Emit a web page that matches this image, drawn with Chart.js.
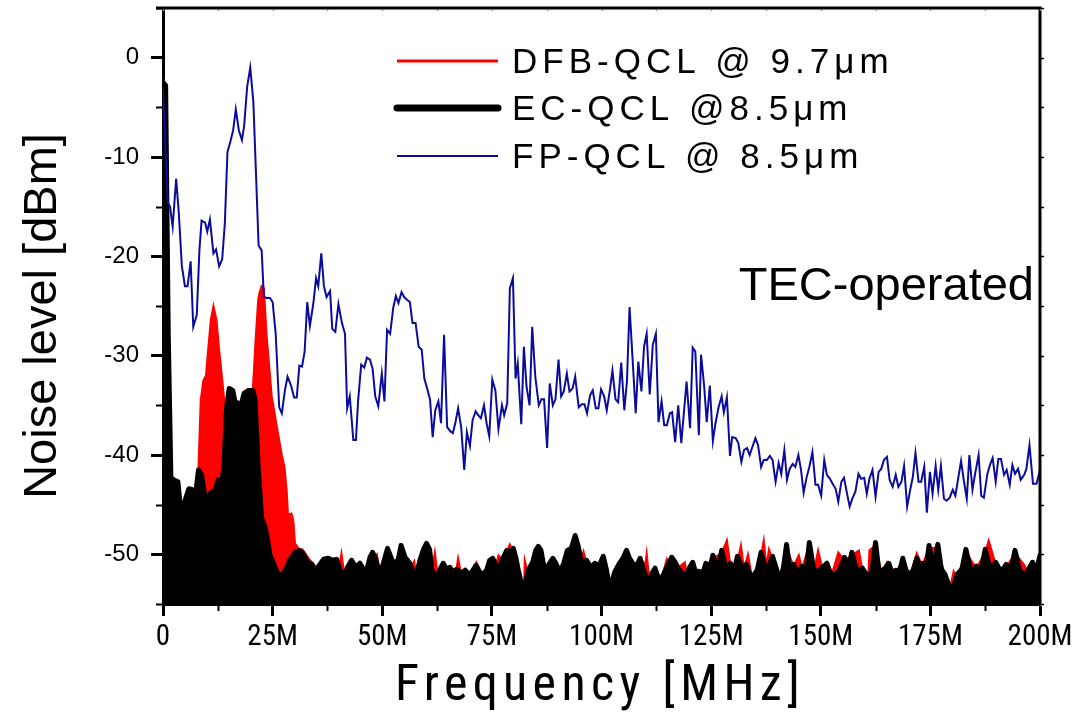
<!DOCTYPE html>
<html>
<head>
<meta charset="utf-8">
<script src="https://cdn.jsdelivr.net/npm/chart.js@4.4.1/dist/chart.umd.min.js"></script>
<style>
  html, body { margin: 0; padding: 0; background: #fff; }
  #chart { display: block; }
</style>
</head>
<body>
<canvas id="chart" width="1072" height="712"></canvas>
<script>
// values: frequency in MHz, noise level in dBm
const freqDFB = [0.0,0.5,1.2,1.8,2.4,3.4,4.3,5.0,6.0,7.0,7.6,8.1,8.6,9.2,9.8,10.3,10.9,11.5,12.2,12.8,13.6,14.1,14.8,16.0,17.5,19.0,20.0,20.6,21.2,21.7,22.0,22.5,23.0,23.6,24.8,25.9,27.1,27.7,28.2,28.5,29.3,29.7,30.1,30.9,31.8,32.6,33.4,34.3,35.2,36.0,37.0,38.1,39.4,40.1,40.7,41.3,42.2,43.0,44.2,45.6,47.0,48.2,48.8,49.5,50.5,51.3,52.3,53.3,54.3,55.5,56.6,57.3,57.8,58.6,59.6,60.5,61.3,62.0,62.6,63.5,64.6,65.8,66.8,67.3,68.0,69.0,70.2,71.5,72.3,73.2,74.5,75.6,76.5,77.3,78.3,79.1,80.0,81.0,81.6,82.3,82.5,83.0,84.2,85.6,86.8,87.9,88.9,90.0,91.2,92.4,93.8,95.0,95.9,96.6,97.5,98.5,99.4,100.4,101.3,102.1,103.2,104.0,105.0,105.8,106.7,107.3,108.2,108.9,110.0,110.3,110.9,112.1,113.1,113.8,114.9,115.5,116.1,117.0,117.9,119.0,119.5,120.8,122.2,123.8,125.4,127.4,128.6,129.4,130.4,131.8,132.5,133.4,134.3,135.4,136.4,137.0,137.6,138.2,139.0,140.0,140.9,142.2,143.8,145.0,145.7,147.4,148.4,149.4,150.4,151.4,152.4,154.0,155.4,157.1,158.7,159.5,160.8,161.1,162.5,163.9,165.1,166.3,167.1,168.7,170.3,171.9,173.1,174.7,176.7,178.3,179.5,180.3,181.1,183.1,185.5,187.5,188.3,189.9,191.1,192.3,194.3,196.3,197.3,198.3,199.1,200.0];
const levelDFB = [-2.2,-3.0,-30,-43.0,-43.5,-44.0,-47.5,-45.5,-44.5,-45.2,-44.5,-41.2,-34.5,-32.5,-32.0,-29.4,-26.4,-25.0,-26.4,-29.4,-32.8,-35.2,-37.5,-39.0,-40.0,-39.0,-36.5,-32.5,-27.8,-24.4,-23.7,-23.0,-23.2,-27.8,-34.1,-37.0,-40.0,-41.2,-43.5,-46.0,-45.9,-46.5,-48.9,-49.4,-49.5,-50.0,-50.5,-51.0,-51.3,-50.8,-51.0,-50.8,-51.0,-51.5,-49.9,-51.8,-52.0,-51.2,-51.5,-51.8,-50.8,-50.3,-50.0,-52.3,-51.0,-50.0,-51.4,-51.3,-49.8,-50.8,-51.3,-50.7,-52.5,-51.0,-49.8,-49.5,-51.8,-49.8,-52.0,-51.5,-51.8,-52.0,-51.8,-50.4,-52.0,-52.2,-51.7,-50.8,-52.0,-52.0,-50.8,-51.6,-50.1,-50.5,-49.8,-49.0,-50.0,-51.0,-52.0,-53.8,-50.6,-51.5,-51.0,-49.4,-51.9,-51.2,-50.6,-51.8,-51.2,-49.8,-48.4,-51.0,-49.7,-50.9,-51.6,-51.2,-51.4,-50.4,-51.7,-53.2,-52.0,-51.1,-50.8,-49.8,-51.0,-51.2,-51.5,-50.6,-51.0,-49.9,-52.5,-51.6,-52.5,-52.2,-50.5,-51.2,-50.5,-51.6,-51.2,-50.8,-52.2,-51.0,-51.9,-51.2,-50.4,-49.9,-48.6,-51.1,-51.9,-49.1,-51.5,-50.0,-52.3,-51.8,-50.1,-48.6,-51.2,-49.5,-50.5,-51.8,-52.8,-49.3,-51.2,-50.1,-51.4,-49.1,-51.8,-49.6,-51.5,-51.1,-52.2,-49.8,-50.6,-50.1,-49.6,-51.6,-52.4,-49.6,-49.1,-51.9,-50.8,-52.0,-51.8,-50.6,-52.2,-49.9,-51.1,-49.4,-49.3,-52.2,-53.4,-51.7,-52.4,-49.8,-51.4,-49.8,-48.6,-51.0,-52.0,-51.3,-49.9,-51.0,-51.8,-51.0,-52.0,-50.4];

const freqEC = [0.0,0.6,1.2,1.8,2.4,3.4,4.3,5.0,5.9,6.7,7.3,8.1,8.8,9.8,10.7,11.9,12.6,13.4,13.9,14.5,15.1,15.9,16.4,17.0,17.9,18.5,19.5,20.5,21.0,21.7,22.5,23.0,23.6,24.4,25.2,26.3,26.7,28.0,29.0,30.1,31.0,31.9,33.0,34.0,34.7,35.5,36.6,37.7,38.7,39.6,40.4,41.2,42.1,43.0,44.0,44.9,46.3,47.2,47.8,48.5,49.5,50.5,51.2,52.0,52.5,53.6,54.3,55.2,56.3,57.5,58.6,59.4,60.1,60.8,61.3,62.4,63.2,63.9,64.7,65.4,66.2,67.0,68.0,68.9,69.9,70.7,71.4,72.0,72.7,73.8,74.5,75.2,75.8,76.5,77.3,78.4,79.2,79.9,80.5,81.0,82.2,83.3,84.3,85.0,85.6,86.2,87.1,88.0,88.9,89.6,90.5,91.4,92.2,93.1,94.0,94.7,95.5,96.6,97.5,98.5,99.4,100.4,101.1,101.9,103.0,104.1,104.9,105.7,106.4,107.1,108.0,108.8,109.8,110.7,111.5,112.2,113.3,114.4,115.3,116.0,116.8,117.5,118.6,119.4,120.1,120.8,121.5,122.2,123.0,123.8,124.6,125.4,126.5,127.4,128.4,129.4,130.2,131.0,132.0,133.0,133.8,134.6,135.5,136.4,137.6,139.0,140.0,140.9,141.6,142.2,143.0,143.8,144.8,145.7,146.6,147.4,148.4,149.4,150.4,151.4,152.4,153.4,154.4,155.4,156.3,157.1,158.3,159.5,160.8,161.7,162.5,163.2,163.9,164.7,165.5,166.3,167.1,167.9,168.7,169.5,170.3,171.1,171.9,172.5,173.1,173.9,174.7,175.7,176.7,177.5,178.3,179.9,181.1,182.2,183.1,184.3,185.5,186.5,187.5,188.7,189.9,191.1,192.3,193.3,194.3,195.3,196.3,197.3,198.3,199.1,200.0];
const levelEC = [-2.5,-2.8,-28,-42.3,-42.5,-42.7,-46.9,-44.6,-43.4,-43.5,-44.4,-41.5,-42.0,-44.9,-43.9,-43.5,-42.5,-42.7,-41.2,-35.2,-33.3,-33.5,-34.6,-34.8,-34.8,-33.8,-33.5,-33.5,-34.5,-41.2,-46.4,-46.9,-47.9,-50.1,-50.9,-52.1,-52.3,-51.5,-50.5,-49.8,-49.6,-49.9,-50.8,-51.0,-52.3,-51.2,-50.5,-50.4,-50.6,-50.5,-51.6,-52.3,-51.3,-50.6,-51.3,-50.9,-51.9,-50.3,-49.8,-50.5,-52.1,-50.5,-49.4,-50.3,-50.9,-50.6,-49.1,-50.3,-50.9,-52.4,-50.6,-49.5,-48.9,-49.5,-51.6,-52.3,-51.5,-50.9,-51.5,-51.3,-51.8,-51.5,-51.9,-51.6,-52.1,-51.6,-51.1,-51.6,-52.1,-51.6,-50.6,-50.4,-51.0,-51.6,-50.6,-49.6,-49.8,-49.4,-50.4,-51.6,-53.8,-51.6,-50.8,-49.6,-49.2,-49.6,-51.8,-51.0,-50.4,-50.9,-51.8,-50.9,-49.6,-49.4,-48.1,-49.2,-50.9,-50.6,-51.3,-50.9,-51.2,-50.2,-51.5,-53.5,-51.8,-50.9,-50.4,-49.6,-50.4,-50.9,-51.2,-50.4,-51.8,-53.0,-51.9,-51.4,-52.8,-51.8,-50.9,-50.3,-50.8,-51.4,-52.0,-52.0,-51.3,-50.8,-51.9,-51.7,-52.1,-50.9,-51.6,-50.1,-51.7,-49.6,-51.5,-50.9,-51.8,-50.2,-51.4,-51.0,-52.0,-52.2,-51.6,-49.8,-51.8,-50.2,-51.6,-52.7,-51.0,-49.0,-51.8,-51.0,-51.9,-51.2,-52.0,-48.8,-51.6,-51.7,-51.3,-50.9,-52.1,-52.0,-51.5,-50.3,-51.5,-49.8,-51.8,-51.4,-52.3,-51.6,-48.8,-51.5,-51.7,-51.4,-50.9,-51.9,-51.6,-51.9,-50.4,-51.7,-52.0,-51.6,-50.4,-51.5,-50.9,-51.8,-49.1,-51.5,-49.0,-51.5,-52.0,-53.9,-52.0,-51.5,-49.5,-51.8,-51.2,-51.8,-49.5,-51.6,-50.8,-51.8,-51.0,-51.8,-49.6,-51.5,-52.2,-51.6,-50.8,-51.8,-50.1];

const freqFP = [0.0,1.1,1.6,2.2,3.0,3.6,4.3,5.0,5.6,6.3,6.9,7.7,8.3,8.8,9.6,10.1,10.7,11.5,12.1,12.8,13.5,14.1,14.7,15.4,16.0,16.6,17.3,18.0,18.5,19.2,19.9,20.6,21.2,21.8,22.5,23.0,23.6,24.4,25.0,25.7,26.5,27.1,27.8,28.4,29.2,29.9,30.5,31.1,31.7,32.3,32.9,33.5,34.3,34.9,35.4,36.1,36.7,37.3,38.1,38.6,39.3,40.0,40.8,41.5,42.0,42.6,43.4,44.0,44.5,45.2,45.9,46.5,47.2,47.8,48.4,49.1,49.9,50.5,51.1,51.8,52.5,53.1,53.7,54.4,55.0,55.7,56.3,56.9,57.6,58.3,59.0,59.6,60.3,60.9,61.5,62.1,62.8,63.4,64.1,64.8,65.5,66.1,66.7,67.3,68.0,68.7,69.3,70.0,70.6,71.3,71.9,72.5,73.2,73.8,74.4,75.1,75.8,76.5,77.3,77.8,78.5,79.1,79.8,80.4,80.9,81.7,82.3,82.9,83.6,84.2,84.9,85.7,86.3,86.9,87.6,88.2,88.9,89.5,90.2,90.8,91.4,92.1,92.7,93.4,94.0,94.8,95.5,96.1,96.7,97.4,98.0,98.7,99.3,99.9,100.6,101.2,101.9,102.5,103.2,103.8,104.5,105.2,105.8,106.4,107.1,107.8,108.4,109.1,109.7,110.3,111.0,111.7,112.4,113.0,113.7,114.3,114.9,115.6,116.1,116.8,117.5,118.2,118.8,119.4,120.2,120.8,121.4,122.2,122.7,123.4,124.0,124.7,125.4,126.0,126.7,127.4,127.9,128.6,129.3,129.8,130.6,131.2,131.9,132.5,133.2,133.8,134.4,135.1,135.7,136.4,137.0,137.7,138.4,139.0,139.7,140.4,141.0,141.7,142.3,142.9,143.6,144.2,144.9,145.5,146.1,146.8,147.4,148.1,148.8,149.4,150.1,150.8,151.4,152.1,152.7,153.4,154.0,154.7,155.3,156.0,156.6,157.2,157.9,158.6,159.2,159.9,160.5,161.1,161.8,162.5,163.2,163.8,164.4,165.1,165.7,166.4,167.1,167.7,168.4,169.0,169.7,170.4,171.0,171.6,172.3,172.9,173.6,174.2,174.9,175.5,176.2,176.8,177.4,178.1,178.7,179.4,180.1,180.7,181.4,182.0,182.6,183.3,183.9,184.6,185.2,186.0,186.6,187.2,188.0,188.6,189.2,189.9,190.5,191.1,191.8,192.4,193.1,193.7,194.3,195.0,195.6,196.4,196.9,197.6,198.4,199.2,200.0];
const levelFP = [-3.2,-14.6,-15.0,-17.0,-12.2,-15.6,-21.0,-23.0,-23.0,-20.5,-27.1,-25.9,-19.4,-16.4,-16.6,-17.5,-16.3,-19.7,-19.3,-21.0,-20.3,-16.7,-9.5,-8.4,-7.3,-5.2,-7.3,-8.3,-6.9,-2.9,-1.0,-4.4,-11.6,-18.9,-19.4,-24.1,-24.2,-24.2,-24.6,-27.8,-35.2,-35.8,-33.5,-32.1,-33.0,-34.2,-34.2,-31.0,-31.1,-29.6,-24.6,-27.0,-24.7,-22.2,-23.0,-19.7,-23.0,-24.1,-23.5,-27.3,-27.6,-24.8,-26.7,-27.8,-35.3,-34.1,-38.5,-38.5,-34.5,-30.9,-31.2,-30.2,-30.4,-31.3,-34.1,-35.1,-31.8,-34.6,-27.4,-27.8,-25.2,-24.0,-24.7,-23.6,-24.1,-24.4,-24.6,-26.7,-26.7,-29.1,-29.4,-32.3,-33.4,-34.4,-38.2,-35.5,-34.6,-36.8,-27.9,-37.2,-37.6,-37.8,-36.7,-35.3,-37.2,-41.5,-37.7,-39.1,-36.5,-35.6,-36.0,-36.3,-35.0,-36.8,-38.1,-32.4,-33.5,-37.4,-35.0,-36.0,-34.8,-23.2,-22.2,-32.3,-30.8,-36.9,-29.1,-33.1,-35.0,-27.1,-32.1,-35.0,-34.4,-34.4,-39.3,-32.8,-35.0,-34.4,-30.4,-34.1,-33.6,-31.8,-33.6,-33.3,-32.1,-35.2,-34.9,-34.9,-35.8,-34.0,-33.5,-35.3,-35.3,-33.4,-34.1,-35.5,-33.5,-31.5,-34.4,-34.7,-30.7,-35.5,-32.6,-25.1,-30.4,-35.8,-30.6,-33.6,-29.1,-27.8,-33.9,-28.9,-27.8,-36.7,-34.6,-37.0,-37.0,-35.8,-35.7,-38.7,-35.0,-38.8,-35.7,-32.6,-37.3,-29.2,-29.6,-38.0,-29.9,-33.0,-36.7,-33.0,-38.6,-36.8,-35.2,-34.1,-35.7,-34.2,-40.1,-38.2,-38.3,-38.8,-40.7,-39.5,-39.3,-40.0,-39.2,-38.3,-39.0,-41.2,-40.5,-40.5,-40.1,-40.5,-42.7,-40.8,-41.9,-39.5,-42.5,-41.4,-40.9,-41.2,-40.0,-41.5,-43.8,-42.2,-41.2,-39.7,-43.0,-43.0,-44.1,-40.5,-42.0,-42.4,-42.9,-43.4,-44.7,-42.7,-42.3,-43.9,-45.2,-44.4,-43.7,-41.9,-42.4,-42.3,-43.9,-42.4,-41.5,-44.2,-41.7,-41.4,-40.5,-40.2,-42.5,-43.2,-42.0,-43.2,-42.7,-41.1,-45.2,-43.5,-42.2,-39.8,-42.7,-42.7,-41.2,-45.8,-41.7,-43.9,-41.1,-43.5,-41.1,-44.4,-44.6,-44.3,-43.5,-44.1,-42.2,-40.6,-42.5,-44.4,-40.0,-43.5,-41.9,-40.0,-44.1,-44.3,-41.9,-41.0,-40.3,-42.7,-40.4,-40.4,-42.0,-41.5,-43.0,-41.0,-41.9,-41.4,-42.5,-42.0,-41.4,-39.0,-42.9,-42.9,-41.5];

const seriesLabels = ['DFB-QCL @ 9.7\u03bcm', 'EC-QCL @8.5\u03bcm', 'FP-QCL @ 8.5\u03bcm'];
const xTicks = [0, 25, 50, 75, 100, 125, 150, 175, 200];
const xMinorTicks = [12.5, 37.5, 62.5, 87.5, 112.5, 137.5, 162.5, 187.5];
const yTicks = [0, -10, -20, -30, -40, -50];
const yMinorTicks = [5, -5, -15, -25, -35, -45, -55];

const pts = (xs, ys) => xs.map((f, i) => ({ x: f, y: ys[i] }));

const SANS = "'Liberation Sans', Arial, sans-serif";
const NARROW = "'Liberation Sans Narrow', 'Arial Narrow', 'Roboto Condensed', 'DejaVu Sans Condensed', sans-serif";

// minor ticks, box frame, legend and text labels
const decorations = {
  id: 'decorations',
  afterDraw(chart) {
    const { ctx, chartArea: a, scales: { x, y } } = chart;
    ctx.save();
    ctx.strokeStyle = '#000';
    ctx.lineCap = 'butt';

    // top and right frame
    ctx.lineWidth = 3;
    ctx.beginPath();
    ctx.moveTo(a.left - 7, a.top);
    ctx.lineTo(a.right, a.top);
    ctx.lineTo(a.right, a.bottom + 1);
    ctx.stroke();

    // minor ticks left and bottom
    ctx.lineWidth = 2;
    ctx.beginPath();
    yMinorTicks.forEach(v => {
      const py = Math.round(y.getPixelForValue(v)) + 0.5;
      ctx.moveTo(a.left - 7, py); ctx.lineTo(a.left, py);
    });
    xMinorTicks.forEach(v => {
      const px = Math.round(x.getPixelForValue(v)) + 0.5;
      ctx.moveTo(px, a.bottom); ctx.lineTo(px, a.bottom + 7);
    });
    ctx.stroke();

    // small ticks on right and top
    ctx.lineWidth = 1.5;
    ctx.beginPath();
    yTicks.concat(yMinorTicks).forEach(v => {
      const py = Math.round(y.getPixelForValue(v)) + 0.5;
      ctx.moveTo(a.right, py); ctx.lineTo(a.right + 4, py);
    });
    ctx.stroke();
    ctx.strokeStyle = '#888';
    ctx.beginPath();
    xTicks.concat(xMinorTicks).forEach(v => {
      const px = Math.round(x.getPixelForValue(v)) + 0.5;
      ctx.moveTo(px, a.top + 1); ctx.lineTo(px, a.top + 3);
    });
    ctx.stroke();

    // legend
    const legendWidths = [3, 7, 2];
    const rowY = [61, 108, 156];
    ctx.fillStyle = '#000';
    ctx.font = '35px ' + SANS;
    ctx.textAlign = 'left';
    chart.data.datasets.forEach((ds, i) => {
      ctx.strokeStyle = ds.borderColor;
      ctx.lineWidth = legendWidths[i];
      ctx.lineCap = i === 1 ? 'round' : 'butt';
      ctx.beginPath();
      ctx.moveTo(397, rowY[i]);
      ctx.lineTo(498, rowY[i]);
      ctx.stroke();
      ctx.letterSpacing = '5px';
      ctx.textBaseline = 'alphabetic';
      ctx.fillText(ds.label, 512, rowY[i] + 12);
      ctx.letterSpacing = '0px';
    });

    // annotation
    ctx.font = '47px ' + SANS;
    ctx.textAlign = 'right';
    ctx.textBaseline = 'alphabetic';
    ctx.fillText('TEC-operated', 1034, 300);

    // x axis title, letter spaced to the reference width
    const xTitle = 'Frequency [MHz]';
    ctx.font = '50px ' + NARROW;
    const w = ctx.measureText(xTitle).width;
    ctx.letterSpacing = ((410 - w) / xTitle.length).toFixed(2) + 'px';
    ctx.textAlign = 'left';
    ctx.fillText(xTitle, 395, 700);
    ctx.letterSpacing = '0px';

    // y axis title
    ctx.font = '47px ' + SANS;
    ctx.translate(56, 316);
    ctx.rotate(-Math.PI / 2);
    ctx.textAlign = 'center';
    ctx.fillText('Noise level [dBm]', 0, 0);
    ctx.restore();
  }
};

new Chart(document.getElementById('chart').getContext('2d'), {
  type: 'line',
  data: {
    datasets: [{
      label: seriesLabels[0],
      data: pts(freqDFB, levelDFB),
      borderColor: '#ff0000',
      backgroundColor: '#ff0000',
      borderWidth: 2,
      fill: 'start',
      pointRadius: 0,
      order: 3
    }, {
      label: seriesLabels[1],
      data: pts(freqEC, levelEC),
      borderColor: '#000000',
      backgroundColor: '#000000',
      borderWidth: 5,
      borderJoinStyle: 'round',
      borderCapStyle: 'round',
      fill: 'start',
      pointRadius: 0,
      order: 2
    }, {
      label: seriesLabels[2],
      data: pts(freqFP, levelFP),
      borderColor: '#0c0c9c',
      borderWidth: 2,
      fill: false,
      pointRadius: 0,
      order: 1
    }]
  },
  options: {
    responsive: false,
    animation: false,
    events: [],
    layout: { padding: { left: 0, right: 32, top: 8, bottom: 0 } },
    plugins: { legend: { display: false }, tooltip: { enabled: false } },
    scales: {
      x: {
        type: 'linear',
        min: 0,
        max: 200,
        afterBuildTicks: s => { s.ticks = xTicks.map(v => ({ value: v })); },
        afterFit: s => { s.height = 108; s.paddingLeft = 0; s.paddingRight = 0; },
        border: { display: true, color: '#000', width: 3 },
        grid: { drawOnChartArea: false, drawTicks: true, tickLength: 12, tickWidth: 3, tickColor: '#000' },
        ticks: {
          color: '#000',
          padding: 4,
          maxRotation: 0,
          autoSkip: false,
          font: { family: NARROW, size: 29 },
          callback: v => (v === 0 ? '0' : v + 'M')
        }
      },
      y: {
        type: 'linear',
        min: -55,
        max: 5,
        afterBuildTicks: s => { s.ticks = yTicks.map(v => ({ value: v })); },
        afterFit: s => { s.width = 163; s.paddingTop = 0; s.paddingBottom = 0; },
        border: { display: true, color: '#000', width: 3 },
        grid: { drawOnChartArea: false, drawTicks: true, tickLength: 12, tickWidth: 3, tickColor: '#000' },
        ticks: {
          color: '#000',
          padding: 12,
          autoSkip: false,
          font: { family: SANS, size: 24 },
          callback: v => String(v)
        }
      }
    }
  },
  plugins: [decorations]
});
</script>
</body>
</html>
